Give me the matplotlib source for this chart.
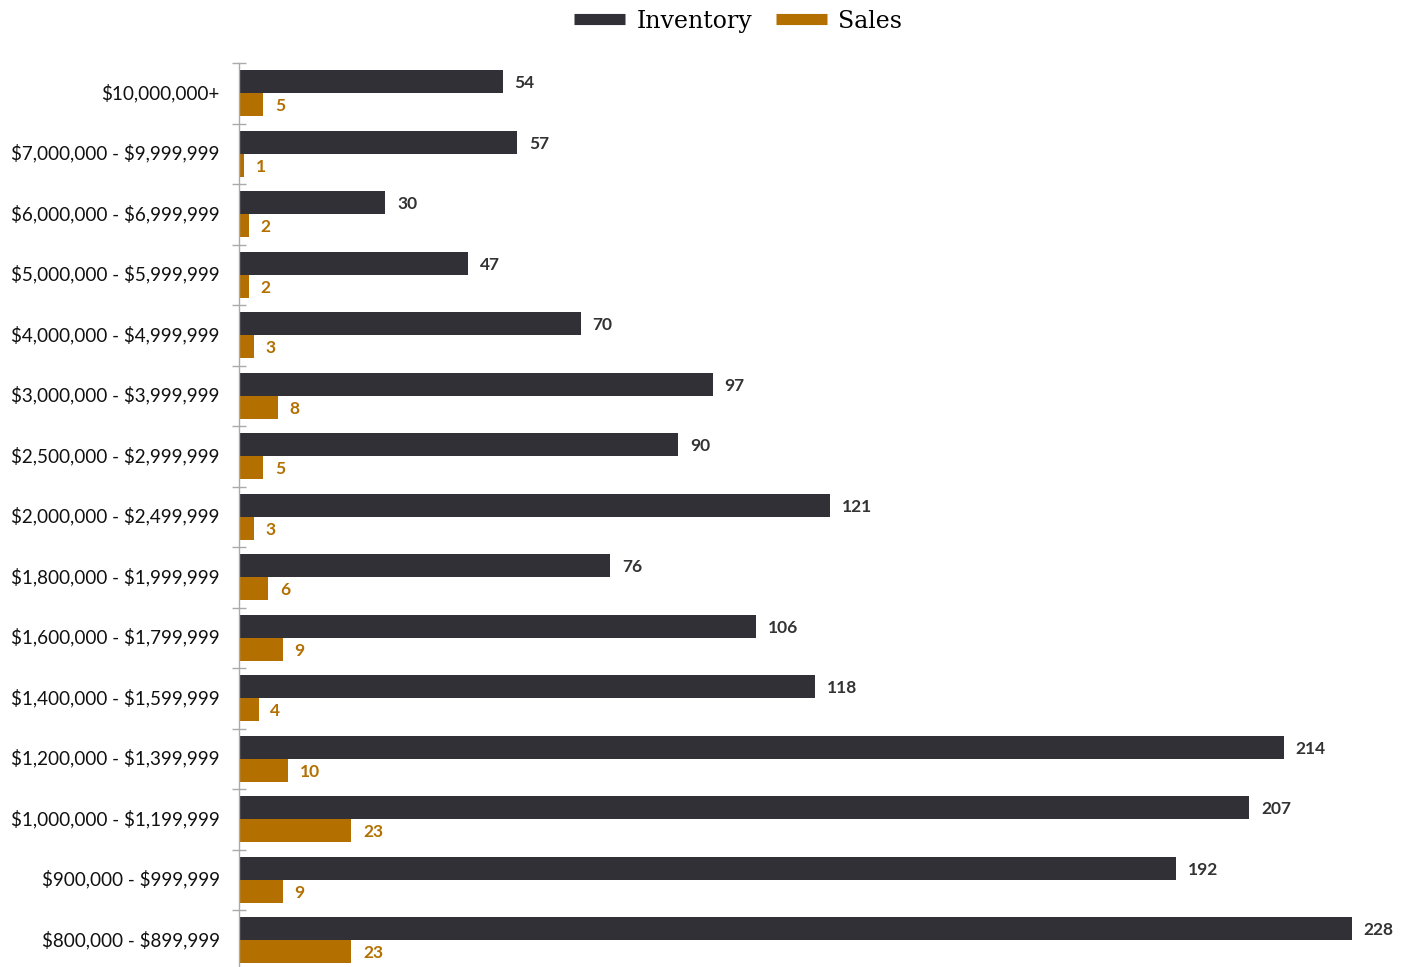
import matplotlib
matplotlib.use("Agg")
import matplotlib.pyplot as plt
import matplotlib.transforms as mtransforms
from matplotlib.lines import Line2D
import numpy as np

plt.rcParams["text.parse_math"] = False

categories = ["$10,000,000+", "$7,000,000 - $9,999,999", "$6,000,000 - $6,999,999",
              "$5,000,000 - $5,999,999", "$4,000,000 - $4,999,999", "$3,000,000 - $3,999,999",
              "$2,500,000 - $2,999,999", "$2,000,000 - $2,499,999", "$1,800,000 - $1,999,999",
              "$1,600,000 - $1,799,999", "$1,400,000 - $1,599,999", "$1,200,000 - $1,399,999",
              "$1,000,000 - $1,199,999", "$900,000 - $999,999", "$800,000 - $899,999"]
inventory = [54, 57, 30, 47, 70, 97, 90, 121, 76, 106, 118, 214, 207, 192, 228]
sales = [5, 1, 2, 2, 3, 8, 5, 3, 6, 9, 4, 10, 23, 9, 23]

inv_color = "#303036"
sales_color = "#b36f00"

W, H = 1403, 967
fig = plt.figure(figsize=(W / 100, H / 100), dpi=100)
left_px, top_px = 239, 63
ax_h_px = 15 * 60.5
ax = fig.add_axes([left_px / W, (H - top_px - ax_h_px) / H, 1 - left_px / W, ax_h_px / H])

y = np.arange(len(categories))
bh = 0.38
ax.barh(y - bh / 2, inventory, height=bh, color=inv_color)
ax.barh(y + bh / 2, sales, height=bh, color=sales_color)

ax.set_ylim(len(categories) - 0.5, -0.5)
ax.set_xlim(0, (W - left_px) / ((1352 - 239) / 228))

for i, (v, s) in enumerate(zip(inventory, sales)):
    ax.annotate(str(v), (v, i - bh / 2), xytext=(8.5, -1), textcoords="offset points",
                va="center", ha="left", fontsize=12.5, fontweight="bold",
                color="#333333", family="Lato")
    ax.annotate(str(s), (s, i + bh / 2), xytext=(8.5, -1), textcoords="offset points",
                va="center", ha="left", fontsize=12.5, fontweight="bold",
                color=sales_color, family="Lato")

ax.set_yticks(y)
ax.set_yticklabels(categories, fontsize=13.6, family="Lato", color="#111111")
ax.tick_params(axis="y", which="major", length=0, pad=14)
shift = mtransforms.ScaledTranslation(0, 2 / 100, fig.dpi_scale_trans)
for lbl in ax.get_yticklabels():
    lbl.set_transform(lbl.get_transform() + shift)
ax.set_yticks(np.arange(-0.5, len(categories) + 0.5, 1), minor=True)
ax.tick_params(axis="y", which="minor", length=10, direction="inout", color="#aaaaaa", width=1)
ax.set_xticks([])
for s in ["top", "right", "bottom"]:
    ax.spines[s].set_visible(False)
ax.spines["left"].set_color("#aaaaaa")
ax.spines["left"].set_linewidth(1)

handles = [Line2D([0], [0], color=inv_color, lw=8, solid_capstyle="butt"),
           Line2D([0], [0], color=sales_color, lw=8, solid_capstyle="butt")]
fig.legend(handles, ["Inventory", "Sales"], loc="upper center", bbox_to_anchor=(0.526, 1.012),
           ncol=2, frameon=False, prop={"family": "DejaVu Serif", "size": 17},
           handlelength=2.16, handletextpad=0.47, columnspacing=1.0)

fig.savefig("out.png", dpi=100)
